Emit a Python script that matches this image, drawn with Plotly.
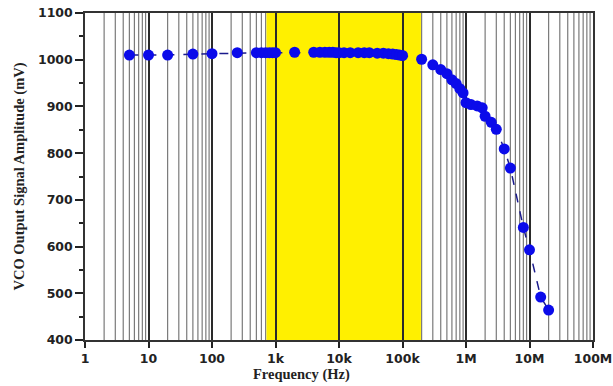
import plotly.graph_objects as go

# Data (frequency in Hz, amplitude in mV)
freq_hz = [5, 10, 20, 50, 100, 250, 500, 600, 700, 800, 900, 1000, 2000,
           4000, 5000, 6000, 7000, 8000, 9000, 10000, 12000, 15000, 20000, 25000,
           30000, 40000, 50000, 60000, 70000, 80000, 90000, 100000,
           200000, 300000, 400000, 500000, 600000, 700000, 800000, 900000,
           1000000, 1200000, 1500000, 1800000, 2000000, 2500000, 3000000,
           4000000, 5000000, 8000000, 10000000, 15000000, 20000000]
amp_mv = [1010, 1010, 1010, 1012, 1013, 1015, 1015, 1015, 1015, 1015, 1015, 1015, 1016,
          1016, 1016, 1016, 1016, 1016, 1015, 1015, 1015, 1015, 1015, 1015,
          1015, 1014, 1014, 1013, 1012, 1011, 1010, 1009,
          1001, 989, 979, 970, 957, 949, 938, 929,
          908, 904, 901, 897, 879, 866, 851,
          809, 768, 641, 593, 492, 464]

x_tick_vals = [1, 10, 100, 1e3, 1e4, 1e5, 1e6, 1e7, 1e8]
x_tick_text = ["1", "10", "100", "1k", "10k", "100k", "1M", "10M", "100M"]
y_tick_vals = [400, 500, 600, 700, 800, 900, 1000, 1100]

band_start_hz = 720
band_end_hz = 195000

fig = go.Figure()

fig.add_trace(go.Scatter(
    x=freq_hz, y=amp_mv, mode="lines+markers",
    line=dict(color="#1a1a8c", width=1.5, dash="dash"),
    marker=dict(color="#0b0bea", size=11, symbol="circle"),
    showlegend=False,
))

# minor (2..9 per decade) grid lines drawn as shapes so the band can cover them
shapes = []
for dec in x_tick_vals[:-1]:
    for m in range(2, 10):
        shapes.append(dict(type="line", xref="x", yref="paper",
                           x0=dec * m, x1=dec * m, y0=0, y1=1,
                           line=dict(color="#7a7a7a", width=1.2), layer="below"))
shapes.append(dict(type="rect", xref="x", yref="paper",
                   x0=band_start_hz, x1=band_end_hz,
                   y0=0, y1=1, fillcolor="#FFF000", line=dict(width=0), layer="below"))

tick_font = dict(family="DejaVu Sans", size=12.5, color="#222222", weight="bold")
title_font = dict(family="Liberation Serif", size=14.5, color="#222222", weight="bold")

fig.update_layout(
    width=613, height=386,
    margin=dict(l=85, r=20, t=13, b=46, autoexpand=False),
    paper_bgcolor="white", plot_bgcolor="white",
    shapes=shapes,
    annotations=[dict(text="Frequency (Hz)", xref="paper", yref="paper",
                      x=0.427, y=-0.107, xanchor="center", yanchor="middle",
                      showarrow=False, font=title_font)],
    xaxis=dict(
        type="log", range=[0, 8], automargin=False,
        tickvals=x_tick_vals, ticktext=x_tick_text,
        tickfont=tick_font, ticklabeloverflow="allow",
        showgrid=True, gridcolor="#2a2a2a", gridwidth=2,
        ticks="outside", ticklen=6, tickwidth=1.5, tickcolor="#222222",
        showline=True, linecolor="#333333", linewidth=1.5, mirror=True,
        zeroline=False,
    ),
    yaxis=dict(
        range=[400, 1100], tickvals=y_tick_vals, automargin=False,
        tickfont=tick_font, ticklabeloverflow="allow",
        title=dict(text="VCO Output Signal Amplitude (mV)", font=title_font, standoff=10),
        showgrid=False,
        ticks="outside", ticklen=8, tickwidth=1.5, tickcolor="#222222",
        minor=dict(dtick=50, ticks="outside", ticklen=4, tickcolor="#222222", showgrid=False),
        showline=True, linecolor="#333333", linewidth=1.5, mirror=True,
        zeroline=False,
    ),
)

fig.write_html("out.html", config={"displayModeBar": False},
               post_script="document.body.style.margin='0';")
